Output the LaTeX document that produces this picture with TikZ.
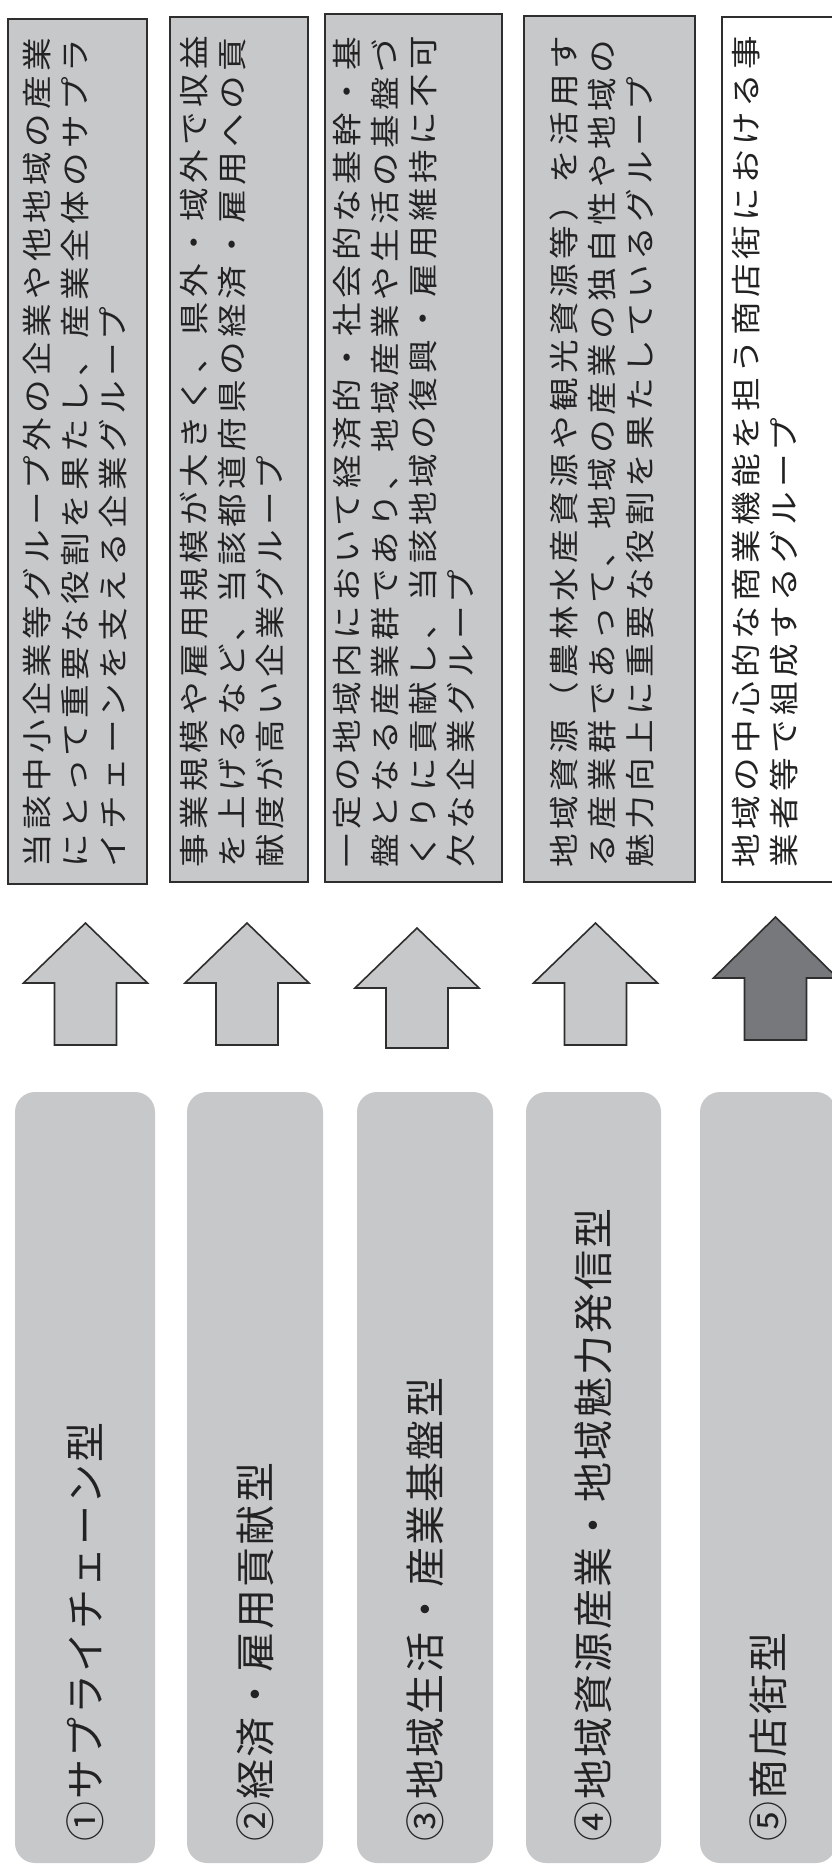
\documentclass[tikz,border=0pt]{standalone}
\usepackage{fontspec}
\newfontfamily\jpdesc[FakeStretch=1.12,LetterSpace=14.7]{Noto Sans CJK JP}
\newfontfamily\jplabel[LetterSpace=6]{Noto Sans CJK JP}
\definecolor{boxgray}{HTML}{C7C8CA}
\definecolor{darkarrow}{HTML}{77787B}
\definecolor{edgegray}{HTML}{2E2E2E}
\definecolor{inkgray}{HTML}{222222}
\begin{document}
\begin{tikzpicture}[x=1pt,y=-1pt,
  descbox/.style={draw=edgegray,line width=1.6pt,fill=boxgray},
  whitebox/.style={draw=edgegray,line width=1.6pt,fill=white},
  typebox/.style={fill=boxgray,rounded corners=20pt},
  desctext/.style={rotate=90,anchor=north west,inner sep=0pt,align=left,
    font=\jpdesc\fontsize{30}{38}\selectfont,text=inkgray},
  typetext/.style={rotate=90,anchor=west,inner sep=0pt,
    font=\jplabel\fontsize{40}{44}\selectfont,text=inkgray},
  lightarrow/.style={draw=edgegray,line width=1.6pt,fill=boxgray,line join=miter},
  darkarrowst/.style={draw=edgegray,line width=1.6pt,fill=darkarrow,line join=miter}]
\useasboundingbox (0,0) rectangle (832,1874);
\clip (0,0) rectangle (832,1874);
\fill[white] (0,0) rectangle (832,1874);

% description boxes
\draw[descbox] (8,19) rectangle (147,884);
\draw[descbox] (170,17) rectangle (308,882);
\draw[descbox] (325,14) rectangle (502,882);
\draw[descbox] (524,16) rectangle (695,882);
\draw[whitebox] (722,17) rectangle (860,882);

\node[desctext] (d1) at (23,868) {当該中小企業等グループ外の企業や他地域の産業\\にとって重要な役割を果たし、産業全体のサプラ\\イチェーンを支える企業グループ};
\node[desctext] (d2) at (180,868) {事業規模や雇用規模が大きく、県外・域外で収益\\を上げるなど、当該都道府県の経済・雇用への貢\\献度が高い企業グループ};
\node[desctext] (d3) at (333,868) {一定の地域内において経済的・社会的な基幹・基\\盤となる産業群であり、地域産業や生活の基盤づ\\くりに貢献し、当該地域の復興・雇用維持に不可\\欠な企業グループ};
\node[desctext] (d4) at (550,868) {地域資源（農林水産資源や観光資源等）を活用す\\る産業群であって、地域の産業の独自性や地域の\\魅力向上に重要な役割を果たしているグループ};
\node[desctext] (d5) at (732,868) {地域の中心的な商業機能を担う商店街における事\\業者等で組成するグループ};

% block arrows
\newcommand{\blockarrow}[5]{%
  \draw[#5] (#1,#2) -- (#1+62,#3) -- (#1+31,#3) -- (#1+31,#4) -- (#1-31,#4)
    -- (#1-31,#3) -- (#1-62,#3) -- cycle;}
\blockarrow{85.5}{923}{983}{1045}{lightarrow}
\blockarrow{247}{923}{983}{1045}{lightarrow}
\blockarrow{417}{928}{988}{1048}{lightarrow}
\blockarrow{595.5}{923}{983}{1045}{lightarrow}
\blockarrow{775.5}{917}{978}{1040}{darkarrowst}

% type boxes
\fill[typebox] (15,1092) rectangle (155,1863);
\fill[typebox] (187,1092) rectangle (323,1863);
\fill[typebox] (357,1092) rectangle (493,1863);
\fill[typebox] (526,1092) rectangle (661,1863);
\fill[typebox] (700,1092) rectangle (836,1863);

\node[typetext] (t1) at (85,1842) {①サプライチェーン型};
\node[typetext] (t2) at (255,1842) {②経済・雇用貢献型};
\node[typetext] (t3) at (425,1842) {③地域生活・産業基盤型};
\node[typetext] (t4) at (593.5,1842) {④地域資源産業・地域魅力発信型};
\node[typetext] (t5) at (768,1842) {⑤商店街型};
\end{tikzpicture}
\end{document}
